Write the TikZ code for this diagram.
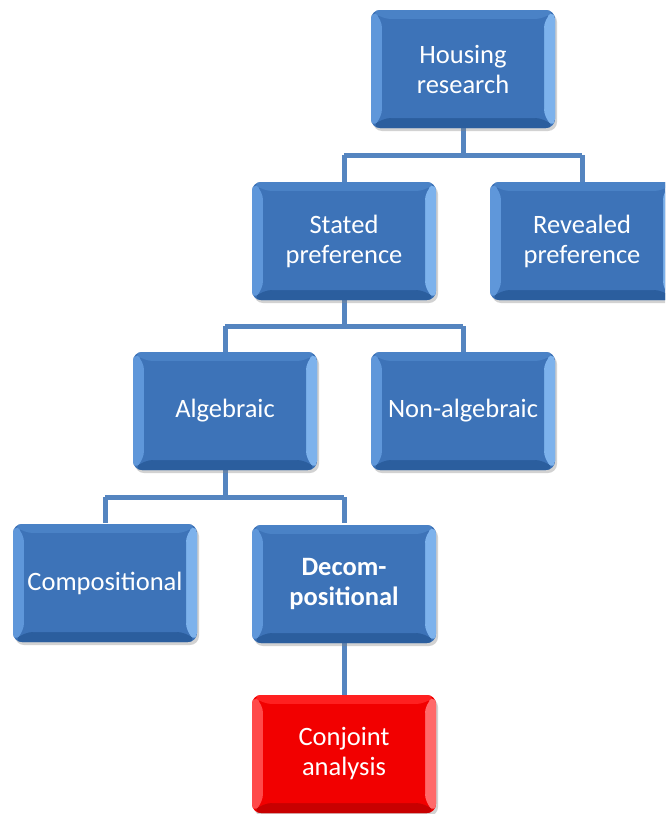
\documentclass[tikz,border=0pt]{standalone}
\usepackage{fontspec}
\setmainfont{Carlito}
\usetikzlibrary{shadows}
\definecolor{bvface}{HTML}{3D73B8}
\definecolor{bvtop}{HTML}{4A82C6}
\definecolor{bvleft}{HTML}{5F97DA}
\definecolor{bvright}{HTML}{7DB2EC}
\definecolor{bvbot}{HTML}{2B5E9E}
\definecolor{rdface}{HTML}{F20000}
\definecolor{rdtop}{HTML}{FF2020}
\definecolor{rdleft}{HTML}{FF4A4A}
\definecolor{rdright}{HTML}{FF6A6A}
\definecolor{rdbot}{HTML}{C80000}
\definecolor{linkblue}{HTML}{5585C0}
\tikzset{
  bevel/.style n args={5}{
    path picture={
      \coordinate (pnw) at (path picture bounding box.north west);
      \coordinate (pne) at (path picture bounding box.north east);
      \coordinate (psw) at (path picture bounding box.south west);
      \coordinate (pse) at (path picture bounding box.south east);
      \fill[#2] (pnw) -- (pne) -- ([shift={(-11pt,-9pt)}]pne) -- ([shift={(11pt,-9pt)}]pnw) -- cycle;
      \fill[#3] (pnw) -- ([shift={(11pt,-9pt)}]pnw) -- ([shift={(11pt,10pt)}]psw) -- (psw) -- cycle;
      \fill[#4] (pne) -- ([shift={(-11pt,-9pt)}]pne) -- ([shift={(-11pt,10pt)}]pse) -- (pse) -- cycle;
      \fill[#5] (psw) -- ([shift={(11pt,10pt)}]psw) -- ([shift={(-11pt,10pt)}]pse) -- (pse) -- cycle;
      \fill[#1] ([shift={(11pt,-9pt)}]pnw) rectangle ([shift={(-11pt,10pt)}]pse);
    }},
  box/.style={rounded corners=9pt, minimum width=184pt, minimum height=118pt,
    inner sep=2pt, text=white, align=center, fill=bvface,
    font=\fontsize{26.5}{30}\selectfont,
    drop shadow={opacity=0.35, shadow xshift=2pt, shadow yshift=-3pt},
    bevel={bvface}{bvtop}{bvleft}{bvright}{bvbot}},
  redbox/.style={box, fill=rdface, bevel={rdface}{rdtop}{rdleft}{rdright}{rdbot}},
  link/.style={draw=linkblue, line width=5pt}
}
\begin{document}
\begin{tikzpicture}[x=1pt,y=-1pt]
\useasboundingbox (0,0) rectangle (665,814);
\clip (0,0) rectangle (665,814);
\fill[white] (0,0) rectangle (665,814);
% connectors first
\coordinate (j1) at (463,155);
\coordinate (j2) at (344,326);
\coordinate (j3) at (225,497);
\draw[link] (463,128) -- (j1);
\draw[link] (344,155) -- (582,155);
\draw[link] (344,155) -- (344,182);
\draw[link] (582,155) -- (582,182);
\draw[link] (344,300) -- (j2);
\draw[link] (225,326) -- (463,326);
\draw[link] (225,326) -- (225,352);
\draw[link] (463,326) -- (463,352);
\draw[link] (225,470) -- (j3);
\draw[link] (105,497) -- (344,497);
\draw[link] (105,497) -- (105,523);
\draw[link] (344,497) -- (344,523);
\draw[link] (344,643) -- (344,695);
% boxes
\node[box] (hr) at (463,69) {Housing\\research};
\node[box] (sp) at (344,241) {Stated\\preference};
\node[box] (rp) at (582,241) {Revealed\\preference};
\node[box] (al) at (225,411) {Algebraic};
\node[box] (na) at (463,411) {Non-algebraic};
\node[box] (co) at (105,583) {Compositional};
\node[box, font=\fontsize{26.5}{30}\selectfont\bfseries] (de) at (344,584) {Decom-\\positional};
\node[redbox] (ca) at (344,754) {Conjoint\\analysis};
\end{tikzpicture}
\end{document}
